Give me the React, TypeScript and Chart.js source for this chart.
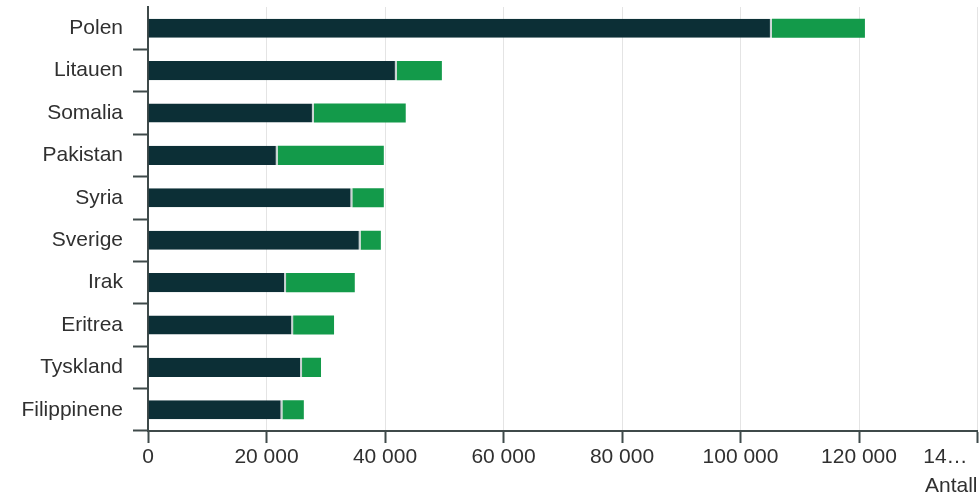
import React, { useEffect, useRef } from "react";
import { Chart, registerables } from "chart.js";

Chart.register(...registerables);

const categories = ["Polen", "Litauen", "Somalia", "Pakistan", "Syria", "Sverige", "Irak", "Eritrea", "Tyskland", "Filippinene"];
const seriesDark = [105300, 42000, 28000, 21900, 34500, 35900, 23300, 24500, 26000, 22700];
const seriesGreen = [15700, 7600, 15500, 17900, 5300, 3400, 11600, 6900, 3200, 3600];
const seriesNames = ["Innvandrere", "Norskfødte med innvandrerforeldre"];
const xTickLabels: Record<number, string> = {
  0: "0",
  20000: "20 000",
  40000: "40 000",
  60000: "60 000",
  80000: "80 000",
  100000: "100 000",
  120000: "120 000",
  140000: "14…",
};
const xAxisTitle = "Antall";

const FONT = "'Liberation Sans', Arial, sans-serif";
const TEXT = "#303030";
const AXIS = "#3f4a4a";

export default function App() {
  const ref = useRef<HTMLCanvasElement | null>(null);
  useEffect(() => {
    if (!ref.current) return;
    const chart = new Chart(ref.current, {
      type: "bar",
      data: {
        labels: categories,
        datasets: [
          {
            label: seriesNames[0],
            data: seriesDark,
            backgroundColor: "#0c2f36",
            borderColor: "#c9d2d2",
            borderWidth: { top: 0, bottom: 0, left: 0, right: 2 },
            borderSkipped: false,
            categoryPercentage: 1,
            barPercentage: 0.45,
          },
          {
            label: seriesNames[1],
            data: seriesGreen,
            backgroundColor: "#139a4a",
            borderWidth: 0,
            categoryPercentage: 1,
            barPercentage: 0.45,
          },
        ],
      },
      options: {
        indexAxis: "y",
        animation: false,
        responsive: false,
        maintainAspectRatio: false,
        layout: { padding: { top: 7, right: 1.5, left: 0, bottom: 0 } },
        plugins: { legend: { display: false }, tooltip: { enabled: false } },
        scales: {
          x: {
            stacked: true,
            min: 0,
            max: 140000,
            afterBuildTicks: (scale: any) => {
              scale.ticks = Object.keys(xTickLabels).map((v) => ({ value: Number(v) }));
            },
            afterFit: (scale: any) => {
              scale.height = 66;
              scale.paddingLeft = 0;
              scale.paddingRight = 0;
            },
            ticks: {
              autoSkip: false,
              maxRotation: 0,
              padding: 2,
              color: TEXT,
              font: { family: FONT, size: 21 },
              callback: (v: any) => {
                const s = xTickLabels[Number(v)] ?? "";
                return Number(v) === 140000 ? s + "\u00a0".repeat(11) : s;
              },
            },
            grid: {
              color: "#e4e4e4",
              lineWidth: 1,
              tickColor: AXIS,
              tickLength: 12,
              tickWidth: 2,
            },
            border: { display: true, color: AXIS, width: 2 },
            title: {
              display: true,
              text: xAxisTitle,
              align: "end",
              color: TEXT,
              font: { family: FONT, size: 21, lineHeight: 1 },
              padding: { top: 0, bottom: 0 },
            },
          },
          y: {
            stacked: true,
            afterFit: (scale: any) => {
              scale.width = 148;
              scale.paddingTop = 0;
              scale.paddingBottom = 0;
            },
            ticks: {
              padding: 10,
              color: TEXT,
              font: { family: FONT, size: 21 },
            },
            grid: {
              offset: true,
              drawOnChartArea: false,
              tickColor: (ctx: any) => (ctx.index === 0 ? "rgba(0,0,0,0)" : AXIS),
              tickLength: 15,
              tickWidth: 2,
            },
            border: { display: true, color: AXIS, width: 2 },
          },
        },
      },
    } as any);
    return () => chart.destroy();
  }, []);
  return (
    <div style={{ position: "fixed", left: 0, top: 0, width: 979, height: 497, background: "#fff" }}>
      <canvas ref={ref} width={979} height={497} style={{ width: 979, height: 497, display: "block" }} />
    </div>
  );
}
